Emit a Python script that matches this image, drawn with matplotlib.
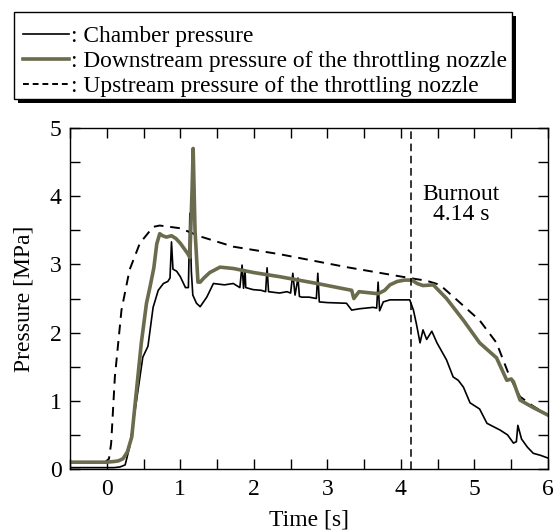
import matplotlib
matplotlib.use("Agg")
import matplotlib.pyplot as plt
from matplotlib.ticker import MultipleLocator
from matplotlib.lines import Line2D
from matplotlib.patches import Rectangle

plt.rcParams['font.family'] = ['Liberation Serif', 'DejaVu Serif']
plt.rcParams['mathtext.fontset'] = 'stix'

# Chamber pressure (black solid)
t_chamber = [-0.5, 0.1, 0.18, 0.25, 0.31, 0.4, 0.49, 0.56, 0.63, 0.7, 0.77, 0.83, 0.86, 0.88, 0.9,
             0.95, 1.0, 1.07, 1.11, 1.13, 1.15, 1.17, 1.22, 1.27, 1.36, 1.45, 1.6, 1.72, 1.81, 1.84,
             1.86, 1.88, 1.89, 1.99, 2.1, 2.16, 2.18, 2.2, 2.35, 2.45, 2.5, 2.53, 2.56, 2.6, 2.62,
             2.65, 2.75, 2.85, 2.87, 2.89, 3.0, 3.26, 3.33, 3.44, 3.62, 3.67, 3.69, 3.71, 3.76, 3.85,
             4.0, 4.12, 4.17, 4.21, 4.26, 4.3, 4.35, 4.42, 4.49, 4.62, 4.71, 4.78, 4.85, 4.94, 5.07,
             5.17, 5.35, 5.45, 5.53, 5.57, 5.59, 5.64, 5.72, 5.8, 5.9, 6.0]
p_chamber = [0.02, 0.02, 0.03, 0.06, 0.32, 0.97, 1.64, 1.8, 2.37, 2.62, 2.72, 2.75, 2.8, 3.33, 2.93,
             2.9, 2.82, 2.66, 2.66, 3.75, 2.9, 2.55, 2.43, 2.38, 2.52, 2.72, 2.7, 2.72, 2.66, 2.99,
             2.65, 2.92, 2.66, 2.63, 2.62, 2.6, 2.95, 2.6, 2.58, 2.6, 2.58, 2.87, 2.55, 2.8, 2.53,
             2.52, 2.52, 2.5, 2.87, 2.45, 2.44, 2.43, 2.33, 2.35, 2.37, 2.36, 2.74, 2.32, 2.45, 2.48,
             2.48, 2.48, 2.33, 2.13, 1.85, 2.04, 1.9, 2.02, 1.85, 1.6, 1.35, 1.3, 1.2, 0.97, 0.88,
             0.67, 0.57, 0.5, 0.38, 0.4, 0.64, 0.44, 0.32, 0.23, 0.2, 0.16]

# Downstream pressure of the throttling nozzle (olive solid)
t_down = [-0.5, 0.0, 0.1, 0.16, 0.22, 0.28, 0.34, 0.4, 0.47, 0.54, 0.59, 0.64, 0.68, 0.72, 0.76,
          0.81, 0.88, 0.94, 1.0, 1.1, 1.13, 1.16, 1.175, 1.2, 1.24, 1.27, 1.32, 1.4, 1.54, 1.72,
          2.0, 2.35, 2.86, 3.33, 3.36, 3.43, 3.69, 3.78, 3.85, 3.95, 4.05, 4.15, 4.22, 4.3, 4.44,
          4.62, 4.85, 5.07, 5.3, 5.44, 5.5, 5.53, 5.62, 5.8, 6.0]
p_down = [0.1, 0.1, 0.11, 0.12, 0.15, 0.25, 0.47, 1.11, 1.85, 2.43, 2.68, 2.95, 3.3, 3.45, 3.42,
          3.40, 3.42, 3.38, 3.31, 3.16, 3.1, 4.1, 4.7, 3.5, 2.74, 2.74, 2.8, 2.88, 2.96, 2.94,
          2.88, 2.82, 2.72, 2.62, 2.5, 2.6, 2.57, 2.62, 2.70, 2.75, 2.77, 2.77, 2.72, 2.69, 2.70,
          2.5, 2.18, 1.85, 1.63, 1.3, 1.32, 1.28, 1.01, 0.9, 0.79]

# Upstream pressure of the throttling nozzle (black dashed)
t_up = [-0.5, -0.02, 0.03, 0.06, 0.11, 0.2, 0.31, 0.45, 0.63, 0.72, 1.0, 1.27, 1.72, 2.35, 3.26,
        4.12, 4.35, 4.53, 4.76, 5.07, 5.3, 5.48, 5.62, 5.8, 6.0]
p_up = [0.1, 0.1, 0.15, 0.38, 1.35, 2.33, 2.92, 3.31, 3.55, 3.57, 3.53, 3.41, 3.26, 3.15, 2.96,
        2.80, 2.76, 2.70, 2.48, 2.18, 1.85, 1.35, 1.06, 0.92, 0.79]

burnout_t = 4.14
labels = [": Chamber pressure",
          ": Downstream pressure of the throttling nozzle",
          ": Upstream pressure of the throttling nozzle"]
xticks = [0, 1, 2, 3, 4, 5, 6]
yticks = [0, 1, 2, 3, 4, 5]

olive = '#6b6b4e'
fs = 17
W, H = 558, 532

fig = plt.figure(figsize=(W/100, H/100), dpi=100)
ax = fig.add_axes([70/W, 1-469/H, (548-70)/W, (469-128)/H])

ax.plot(t_up, p_up, color='black', lw=1.4, ls=(0, (5, 3.5)))
ax.plot(t_chamber, p_chamber, color='black', lw=1.2)
ax.plot(t_down, p_down, color=olive, lw=2.6)
ax.axvline(burnout_t, color='black', lw=1.1, ls=(0, (5, 3)))
ax.text(4.82, 4.02, "Burnout", ha='center', va='center', fontsize=fs)
ax.text(4.82, 3.73, "4.14 s", ha='center', va='center', fontsize=fs)

ax.set_xlim(-0.5, 6)
ax.set_ylim(0, 5)
ax.set_xticks(xticks)
ax.set_yticks(yticks)
ax.xaxis.set_minor_locator(MultipleLocator(0.5))
ax.yaxis.set_minor_locator(MultipleLocator(0.5))
ax.tick_params(which='both', direction='in', top=True, right=True, length=7, width=1,
               labelsize=fs, pad=7)
ax.tick_params(axis='y', pad=6)
for s in ax.spines.values():
    s.set_linewidth(1)
ax.set_xlabel("Time [s]", fontsize=fs, labelpad=7)
ax.set_ylabel("Pressure [MPa]", fontsize=fs, labelpad=11)

# legend frame with solid drop shadow
x0, y0, x1, y1 = 14, 12, 512, 99
sh = 4
fig.patches.append(Rectangle(((x0 + sh)/W, 1 - (y1 + sh)/H), (x1 - x0)/W, (y1 - y0)/H,
                             transform=fig.transFigure, facecolor='black', edgecolor='none',
                             zorder=1))
fig.patches.append(Rectangle((x0/W, 1 - y1/H), (x1 - x0)/W, (y1 - y0)/H,
                             transform=fig.transFigure, facecolor='white', edgecolor='black',
                             lw=1, zorder=2))

handles = [Line2D([], [], color='black', lw=1.2),
           Line2D([], [], color=olive, lw=2.6),
           Line2D([], [], color='black', lw=1.4, ls=(0, (3, 2)))]
leg = fig.legend(handles, labels, loc='upper left', bbox_to_anchor=(23/W, 1 - 26/H),
                 fontsize=16.8, frameon=False, handlelength=1.95, handletextpad=0.12,
                 labelspacing=0.15, borderpad=0, borderaxespad=0)
leg.set_zorder(3)

fig.savefig("out.png", dpi=100)
